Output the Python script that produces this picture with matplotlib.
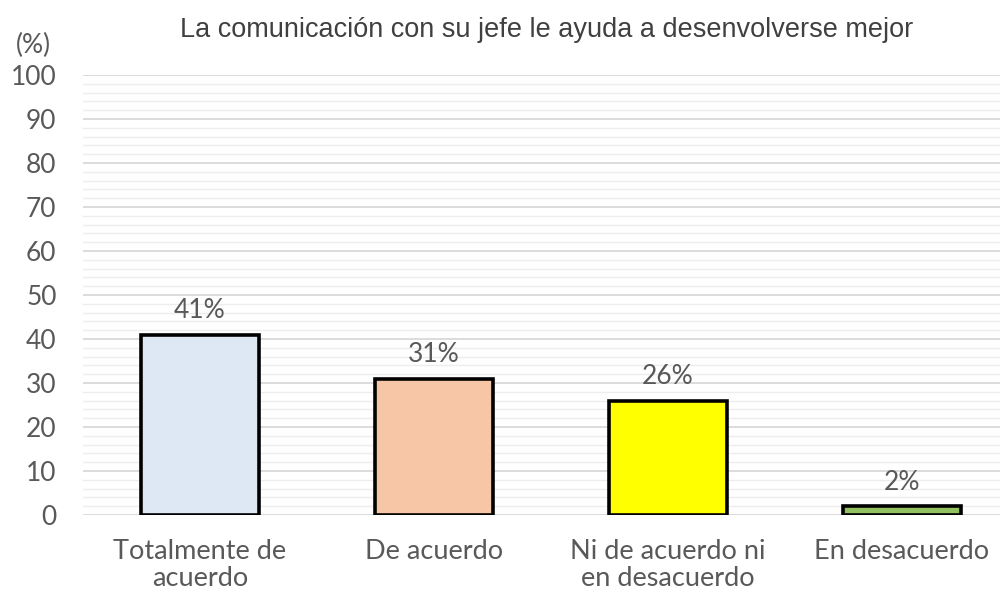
import numpy as np
from matplotlib import pyplot as plt
from matplotlib.ticker import MultipleLocator

categories = ["Totalmente de\nacuerdo", "De acuerdo", "Ni de acuerdo ni\nen desacuerdo", "En desacuerdo"]
values = [41, 31, 26, 2]
colors = ["#DDE8F4", "#F6C6A6", "#FFFF00", "#93C05F"]
title = "La comunicación con su jefe le ayuda a desenvolverse mejor"

text_color = "#595959"
label_font = ["Lato", "DejaVu Sans"]

fig = plt.figure(figsize=(10.02, 5.91), dpi=100)
ax = fig.add_axes([83 / 1002, 1 - 515 / 591, 917 / 1002, 440 / 591])

x = np.arange(len(values))
bars = ax.bar(x, values, width=0.505, color=colors, edgecolor="black", linewidth=2.6, zorder=3)

for bar, v in zip(bars, values):
    ax.text(bar.get_x() + bar.get_width() / 2, v + 2.6, f"{v}%", ha="center", va="bottom",
            fontsize=19, color=text_color, family=label_font)

ax.set_ylim(0, 100)
ax.set_xlim(-0.5, 3.42)
ax.yaxis.set_major_locator(MultipleLocator(10))
ax.yaxis.set_minor_locator(MultipleLocator(2))
ax.grid(which="major", axis="y", color="#D9D9D9", linewidth=1.3, zorder=0)
ax.grid(which="minor", axis="y", color="#EDEDED", linewidth=1.0, zorder=0)
for s in ax.spines.values():
    s.set_visible(False)

ax.set_xticks(x)
ax.set_xticklabels(categories, fontsize=19.5, color=text_color, family=label_font, linespacing=1.1)
ax.tick_params(axis="both", which="both", length=0)
ax.tick_params(axis="x", pad=17)
ax.tick_params(axis="y", pad=19)
for lbl in ax.get_yticklabels():
    lbl.set_fontsize(19)
    lbl.set_color(text_color)
    lbl.set_family(label_font)

fig.text(33 / 1002, 1 - 45 / 591, "(%)", ha="center", va="center", fontsize=19,
         color=text_color, family=label_font)
fig.text(547 / 1002, 1 - 30 / 591, title, ha="center", va="center", fontsize=19.5,
         color="#404040", family=["Liberation Sans", "DejaVu Sans"])

plt.savefig("out.png", dpi=100, facecolor="white")
